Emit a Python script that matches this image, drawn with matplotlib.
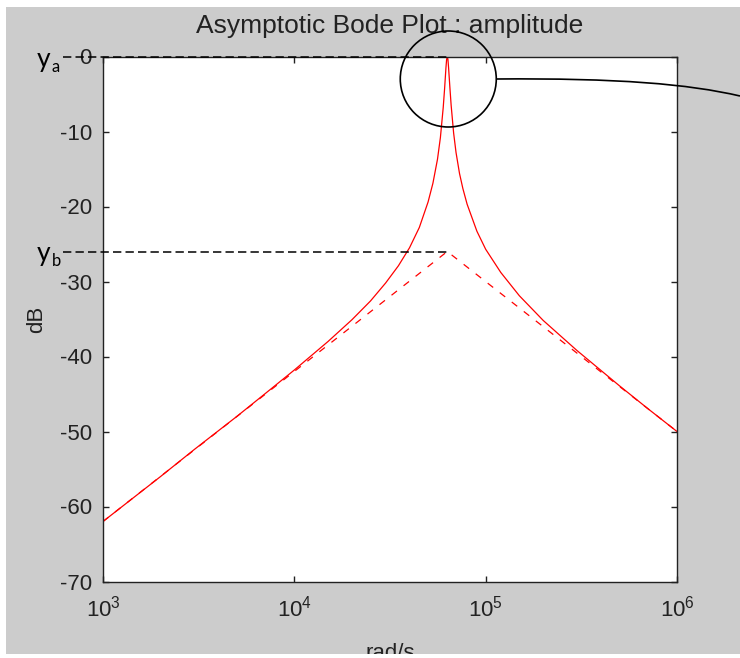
"""
Asymptotic Bode plot (amplitude) of a resonant band-pass,
with the y_a / y_b annotations drawn over it.
"""

import numpy as np
import matplotlib
matplotlib.use("Agg")
import matplotlib.pyplot as plt
from matplotlib.patches import Rectangle, Circle, PathPatch
from matplotlib.path import Path

############## DATA #######################################

# exact curve
w_solid = [1e3, 2e3, 3e3, 5e3, 7e3, 1e4, 1.5e4, 2e4, 2.5e4, 3e4, 3.5e4, 4e4,
           4.5e4, 5e4, 5.3e4, 5.6e4, 5.8e4, 6e4, 6.1e4, 6.2e4, 6.25e4, 6.3e4,
           6.35e4, 6.4e4, 6.5e4, 6.6e4, 6.8e4, 7e4, 7.3e4, 7.6e4, 8e4, 9e4,
           1e5, 1.2e5, 1.5e5, 2e5, 3e5, 5e5, 7e5, 1e6]
mag_solid = [-62.0, -56.0, -52.4, -48.0, -45.0, -41.8, -38.0, -35.1, -32.6,
             -30.2, -27.9, -25.5, -22.8, -19.4, -16.9, -13.7, -10.8, -6.8,
             -4.3, -1.5, -0.4, 0.0, -0.4, -1.5, -4.1, -6.5, -10.2, -12.8,
             -15.6, -17.6, -19.7, -23.3, -25.7, -28.8, -31.9, -35.2, -39.2,
             -43.9, -46.9, -50.0]

# asymptotes
w_asym = [1e3, 6.3e4, 1e6]
mag_asym = [-62.0, -26.0, -50.0]

# annotated levels
w_peak = 6.3e4
y_a = 0.0
y_b = -26.0

x_ticks = [1e3, 1e4, 1e5, 1e6]
x_ticklabels = ["$10^{3}$", "$10^{4}$", "$10^{5}$", "$10^{6}$"]
y_ticks = [0, -10, -20, -30, -40, -50, -60, -70]

##################################################

plt.rcParams["font.family"] = "Liberation Sans"
plt.rcParams["mathtext.fontset"] = "custom"
plt.rcParams["mathtext.rm"] = "Liberation Sans"
plt.rcParams["mathtext.it"] = "Liberation Sans:italic"
plt.rcParams["axes.unicode_minus"] = False
plt.rcParams["lines.scale_dashes"] = False

W, H = 740, 658
fig = plt.figure(figsize=(W / 100, H / 100), dpi=100, facecolor="white")

# grey window background (screenshot margins stay white)
fig.patches.append(Rectangle((6 / W, 4 / H), 734 / W, 647 / H,
                             transform=fig.transFigure, facecolor="#cccccc",
                             edgecolor="none", zorder=-1))

ax = fig.add_axes([103 / W, 1 - 581.5 / H, 574 / W, 525 / H])
ax.set_facecolor("white")

ax.semilogx(w_solid, mag_solid, "-", color="red", lw=0.9)
ax.semilogx(w_asym, mag_asym, color="red", lw=0.9, linestyle=(0, (5, 6)))

ax.set_xlim(1e3, 1e6)
ax.set_ylim(-70, 0)
ax.set_xticks(x_ticks)
ax.set_xticklabels(x_ticklabels)
ax.xaxis.set_minor_locator(matplotlib.ticker.NullLocator())
ax.set_yticks(y_ticks)
ax.set_yticklabels([str(v) for v in y_ticks])

for s in ax.spines.values():
    s.set_color("#222222")
    s.set_linewidth(1.0)
ax.tick_params(direction="in", length=4, width=1, color="#222222",
               top=True, right=True, labelsize=16, labelcolor="#222222")
ax.tick_params(axis="x", pad=10)
ax.tick_params(axis="y", pad=8)

ax.set_title("Asymptotic Bode Plot : amplitude", fontsize=19,
             color="#222222", pad=17)
ax.set_xlabel("rad/s", fontsize=16, color="#222222")
ax.xaxis.set_label_coords(0.5, -0.118)
ax.set_ylabel("dB", fontsize=16, color="#222222")
ax.yaxis.set_label_coords(-0.098, 0.5)

# annotations: y_a, y_b levels
x_start = 10 ** 2.79
ax.plot([x_start, w_peak], [y_a, y_a], color="black", lw=1.1,
        linestyle=(0, (6, 3)), clip_on=False, zorder=5)
ax.plot([x_start, w_peak], [y_b, y_b], color="black", lw=1.1,
        linestyle=(0, (6, 3)), clip_on=False, zorder=5)

for lev, sub in [(y_a, "a"), (y_b, "b")]:
    px, py = ax.transData.transform((x_start, lev))
    fx, fy = fig.transFigure.inverted().transform((px, py))
    fig.text(fx - 26 / W, fy - 10 / H, "y", fontsize=19, family="Lato",
             va="baseline", ha="left")
    fig.text(fx - 11 / W, fy - 15 / H, sub, fontsize=12, family="Lato",
             va="baseline", ha="left")

# circle round the peak and the connector running off to the right
px, py = ax.transData.transform((w_peak, y_a))
cx, cy = px / 100 + 0.01, py / 100 - 0.225
circ = Circle((cx, cy), 0.48, transform=fig.dpi_scale_trans, fill=False,
              edgecolor="black", lw=1.2, zorder=6)
fig.patches.append(circ)

verts = [(cx + 0.48, cy), (cx + 1.7, cy + 0.01), (cx + 2.4, cy - 0.05),
         (7.4, cy - 0.17)]
conn = PathPatch(Path(verts, [Path.MOVETO, Path.CURVE4, Path.CURVE4, Path.CURVE4]),
                 transform=fig.dpi_scale_trans, fill=False, edgecolor="black",
                 lw=1.2, zorder=6)
fig.patches.append(conn)

# white strip at the very bottom clips the x label like the screenshot
fig.patches.append(Rectangle((0, 0), 1, 4 / H, transform=fig.transFigure,
                             facecolor="white", edgecolor="none", zorder=10))

fig.savefig("out.png", dpi=100, facecolor=fig.get_facecolor())
